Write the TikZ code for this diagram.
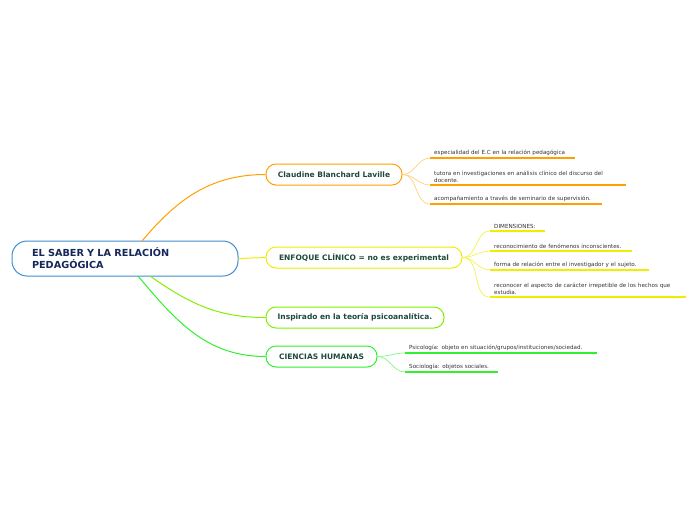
\documentclass[tikz,border=0pt]{standalone}
\usepackage{fontspec}
\setmainfont{DejaVu Sans}
\definecolor{cblue}{HTML}{3F8FD2}
\definecolor{corange}{HTML}{FFA000}
\definecolor{cyellow}{HTML}{EEEE00}
\definecolor{clime}{HTML}{80F000}
\definecolor{cgreen}{HTML}{30F030}
\definecolor{cnavy}{HTML}{16285A}
\definecolor{cteal}{HTML}{1E4A3C}
\definecolor{csub}{HTML}{333333}
\tikzset{
  mainbox/.style={draw=cblue, line width=1pt, fill=white, rounded corners=15pt,
    minimum height=35pt, text width=186pt, inner xsep=20pt, align=left,
    font=\bfseries\fontsize{9.7}{12}\selectfont, text=cnavy},
  topic/.style={draw=#1, line width=1pt, fill=white, rounded corners=10pt,
    minimum height=21pt, inner xsep=0pt, align=center,
    font=\bfseries\fontsize{7.5}{8}\selectfont, text=cteal},
  sub/.style={anchor=south west, inner xsep=4pt, inner ysep=2.5pt, align=left,
    font=\fontsize{5.6}{6.6}\selectfont, text=csub},
  uline/.style={draw=#1, line width=1.3pt},
  link/.style={draw=#1, line width=1pt},
  twig/.style={draw=#1, line width=0.7pt},
}
\begin{document}
\begin{tikzpicture}[x=1pt,y=-1pt]
\useasboundingbox (0,0) rectangle (696,520);
% main and topics
\node[mainbox] (main) at (125,258.5) {EL SABER Y LA RELACIÓN\\PEDAGÓGICA};
\node[topic=corange, minimum width=136pt] (cl) at (334,174.5) {Claudine Blanchard Laville};
\node[topic=cyellow, minimum width=196pt] (en) at (364,257.5) {ENFOQUE CLÍNICO = no es experimental};
\node[topic=clime, minimum width=178pt] (in) at (355,317.5) {Inspirado en la teoría psicoanalítica.};
\node[topic=cgreen, minimum width=111pt] (ci) at (321.5,356.5) {CIENCIAS HUMANAS};
% start points on main border
\coordinate (mo) at (142,241);
\coordinate (ml) at (150,276);
\coordinate (mg) at (138,276);
\draw[link=corange] (mo) to[out=50,in=180] (cl.west);
\draw[link=cyellow] (main.east) -- (en.west);
\draw[link=clime] (ml) to[out=-35,in=180] (in.west);
\draw[link=cgreen] (mg) to[out=-50,in=180] (ci.west);
% Claudine subs
\node[sub, text width=137pt] (c1) at (430,158) {especialidad del E.C en la relación pedagógica};
\node[sub, text width=188pt] (c2) at (430,185) {tutora en investigaciones en análisis clínico del discurso del\\docente.};
\node[sub, text width=164pt] (c3) at (430,204) {acompañamiento a través de seminario de supervisión.};
\foreach \s in {c1,c2,c3}{
  \draw[uline=corange] (\s.south west) -- (\s.south east);
  \draw[twig=corange!50] (cl.east) to[out=0,in=180] (\s.south west);
}
% Enfoque subs
\node[sub, text width=47pt] (e1) at (490,231) {DIMENSIONES:};
\node[sub, text width=134pt] (e2) at (490,251) {reconocimiento de fenómenos inconscientes.};
\node[sub, text width=151pt] (e3) at (490,270) {forma de relación entre el investigador y el sujeto.};
\node[sub, text width=188pt] (e4) at (490,297) {reconocer el aspecto de carácter irrepetible de los hechos que\\estudia.};
\foreach \s in {e1,e2,e3,e4}{
  \draw[uline=cyellow] (\s.south west) -- (\s.south east);
  \draw[twig=cyellow!70] (en.east) to[out=0,in=180] (\s.south west);
}
% Ciencias subs
\node[sub, text width=184pt] (h1) at (405,353) {Psicología: objeto en situación/grupos/instituciones/sociedad.};
\node[sub, text width=85pt] (h2) at (405,372) {Sociología: objetos sociales.};
\foreach \s in {h1,h2}{
  \draw[uline=cgreen] (\s.south west) -- (\s.south east);
  \draw[twig=cgreen!60] (ci.east) to[out=0,in=180] (\s.south west);
}
\end{tikzpicture}
\end{document}
